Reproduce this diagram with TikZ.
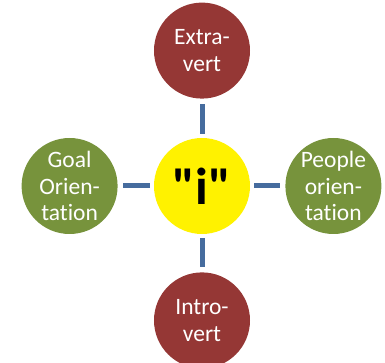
\documentclass[tikz,border=0pt]{standalone}
\usepackage{fontspec}
\setmainfont[Ligatures={NoCommon}]{Carlito}
\newfontfamily\selffont[Ligatures={TeXOff}]{Carlito}
\usetikzlibrary{positioning}
\definecolor{trait-red}{RGB}{149,55,53}
\definecolor{trait-green}{RGB}{119,147,60}
\definecolor{link-blue}{RGB}{70,108,158}
\tikzset{
	every node/.style={
		align=center,
	},
	trait-node/.style={
		circle,
		minimum size=96pt,
		inner sep=0pt,
		text=white,
		font=\fontsize{23.5}{26.5}\selectfont,
		text centered,
		align=center,
		anchor=center
	},
	self-node/.style={
		circle,
		fill=yellow,
		minimum size=96pt,
		inner sep=0pt,
		font=\selffont\bfseries\fontsize{52}{56}\selectfont,
		anchor=center
	},
	link-style/.style = {line width=5pt, draw=link-blue, shorten <=4pt, shorten >=5pt},
}

\begin{document}
\begin{tikzpicture}
	\useasboundingbox (-202pt,-177pt) rectangle (183pt,186pt);
	\node (self) [self-node] at (0,0) {"i"};
	\node (extra) [trait-node, fill=trait-red, above=39pt of self] {Extra-\\vert};
	\node (intro) [trait-node, fill=trait-red, below=38pt of self] {Intro-\\vert};
	\node (goal) [trait-node, fill=trait-green, left=36pt of self] {Goal\\Orien-\\tation};
	\node (people) [trait-node, fill=trait-green, right=35pt of self] {People\\orien-\\tation};
	% spokes
	\draw[link-style] (self) -- (extra);
	\draw[link-style] (self) -- (intro);
	\draw[link-style] (self) -- (goal);
	\draw[link-style] (self) -- (people);
\end{tikzpicture}
\end{document}
